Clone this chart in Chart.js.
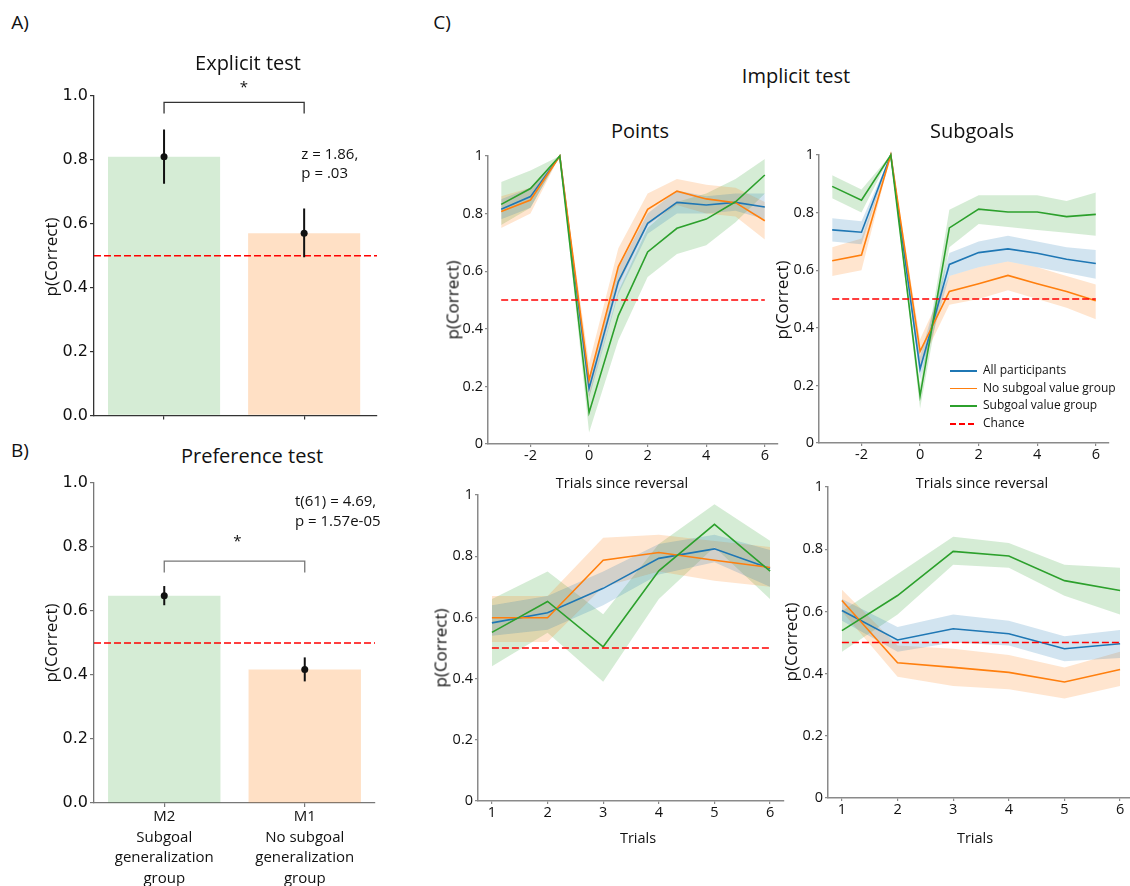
<!DOCTYPE html>
<html lang="en">
<head>
<meta charset="UTF-8" />
<title>Explicit, preference and implicit tests</title>
<style>
  body {
    margin: 0;
    width: 1130px;
    height: 886px;
    overflow: hidden;
    background: #fff;
    position: relative;
    font-family: "Open Sans", sans-serif;
    color: #111;
  }
  canvas { position: absolute; }
  .lbl {
    position: absolute;
    transform: translate(-50%, -50%);
    white-space: nowrap;
  }
  .rot { transform: translate(-50%, -50%) rotate(-90deg); }
  .legend {
    position: absolute;
    left: 950px;
    top: 361px;
    font-size: 12px;
    line-height: 17.7px;
  }
  .legend .sw {
    display: inline-block;
    width: 27px;
    height: 1.6px;
    margin-right: 6px;
    vertical-align: middle;
  }
</style>
</head>
<body>
<script src="https://cdn.jsdelivr.net/npm/chart.js@4"></script>
<script>
  // ---- bar panels (A: explicit test, B: preference test)
  const barGroups = [
    ["M2", "Subgoal", "generalization", "group"],
    ["M1", "No subgoal", "generalization", "group"],
  ];
  const explicitMean = [0.81, 0.57];
  const explicitLo = [0.725, 0.495];
  const explicitHi = [0.895, 0.648];
  const explicitBracket = [0.945, 0.98];
  const prefMean = [0.648, 0.417];
  const prefLo = [0.618, 0.38];
  const prefHi = [0.678, 0.455];
  const prefBracket = [0.72, 0.756];
  const chance = 0.5;

  // ---- implicit test
  const groupNames = ["All participants", "No subgoal value group", "Subgoal value group"];
  const revTrials = [-3, -2, -1, 0, 1, 2, 3, 4, 5, 6];
  const revTicks = [-2, 0, 2, 4, 6];
  const trials = [1, 2, 3, 4, 5, 6];
  const pTicks = [0, 0.2, 0.4, 0.6, 0.8, 1];

  // points, trials since reversal
  const ptsRevAll = [0.815, 0.859, 1, 0.193, 0.564, 0.766, 0.839, 0.83, 0.839, 0.823];
  const ptsRevAllLo = [0.78, 0.82, 1, 0.16, 0.52, 0.73, 0.8, 0.8, 0.81, 0.78];
  const ptsRevAllHi = [0.85, 0.89, 1, 0.23, 0.61, 0.8, 0.88, 0.86, 0.87, 0.87];
  const ptsRevNo = [0.807, 0.847, 1, 0.222, 0.616, 0.815, 0.878, 0.851, 0.838, 0.775];
  const ptsRevNoLo = [0.75, 0.8, 1, 0.16, 0.55, 0.76, 0.83, 0.8, 0.79, 0.71];
  const ptsRevNoHi = [0.86, 0.89, 1, 0.28, 0.68, 0.87, 0.92, 0.9, 0.89, 0.84];
  const ptsRevSub = [0.832, 0.887, 1, 0.109, 0.446, 0.667, 0.749, 0.781, 0.841, 0.934];
  const ptsRevSubLo = [0.76, 0.82, 1, 0.04, 0.36, 0.58, 0.66, 0.69, 0.77, 0.87];
  const ptsRevSubHi = [0.91, 0.95, 1, 0.17, 0.53, 0.75, 0.84, 0.87, 0.92, 0.99];

  // subgoals, trials since reversal
  const sgRevAll = [0.74, 0.732, 1, 0.257, 0.62, 0.661, 0.674, 0.659, 0.638, 0.623];
  const sgRevAllLo = [0.7, 0.69, 1, 0.22, 0.58, 0.61, 0.63, 0.61, 0.59, 0.57];
  const sgRevAllHi = [0.78, 0.77, 1, 0.3, 0.66, 0.7, 0.72, 0.7, 0.68, 0.67];
  const sgRevNo = [0.633, 0.653, 1, 0.318, 0.526, 0.553, 0.582, 0.553, 0.526, 0.494];
  const sgRevNoLo = [0.58, 0.6, 1, 0.27, 0.48, 0.5, 0.53, 0.5, 0.47, 0.43];
  const sgRevNoHi = [0.68, 0.71, 1, 0.36, 0.58, 0.61, 0.63, 0.61, 0.58, 0.55];
  const sgRevSub = [0.891, 0.843, 1, 0.164, 0.747, 0.812, 0.802, 0.802, 0.786, 0.794];
  const sgRevSubLo = [0.85, 0.8, 1, 0.12, 0.68, 0.76, 0.75, 0.74, 0.73, 0.72];
  const sgRevSubHi = [0.93, 0.88, 1, 0.2, 0.81, 0.86, 0.86, 0.86, 0.84, 0.87];

  // points, trials
  const ptsTrAll = [0.582, 0.615, 0.695, 0.793, 0.824, 0.76];
  const ptsTrAllLo = [0.54, 0.56, 0.64, 0.74, 0.78, 0.7];
  const ptsTrAllHi = [0.64, 0.67, 0.75, 0.84, 0.87, 0.82];
  const ptsTrNo = [0.599, 0.599, 0.787, 0.812, 0.787, 0.763];
  const ptsTrNoLo = [0.52, 0.52, 0.7, 0.75, 0.72, 0.7];
  const ptsTrNoHi = [0.67, 0.67, 0.86, 0.87, 0.85, 0.83];
  const ptsTrSub = [0.551, 0.652, 0.504, 0.752, 0.904, 0.751];
  const ptsTrSubLo = [0.44, 0.55, 0.39, 0.66, 0.83, 0.66];
  const ptsTrSubHi = [0.66, 0.75, 0.61, 0.84, 0.97, 0.85];

  // subgoals, trials
  const sgTrAll = [0.603, 0.508, 0.544, 0.528, 0.48, 0.496];
  const sgTrAllLo = [0.57, 0.47, 0.5, 0.49, 0.44, 0.45];
  const sgTrAllHi = [0.64, 0.55, 0.59, 0.57, 0.52, 0.54];
  const sgTrNo = [0.635, 0.435, 0.42, 0.404, 0.373, 0.413];
  const sgTrNoLo = [0.6, 0.39, 0.36, 0.35, 0.32, 0.36];
  const sgTrNoHi = [0.67, 0.49, 0.48, 0.46, 0.42, 0.47];
  const sgTrSub = [0.538, 0.651, 0.793, 0.778, 0.699, 0.667];
  const sgTrSubLo = [0.47, 0.59, 0.75, 0.74, 0.65, 0.59];
  const sgTrSubHi = [0.6, 0.72, 0.84, 0.82, 0.75, 0.74];

  const BLUE = "#1f77b4", ORANGE = "#ff7f0e", GREEN = "#2ca02c";
  const SANS = '"Open Sans", sans-serif';

  Chart.defaults.font.family = SANS;
  Chart.defaults.color = "#111";
  Chart.defaults.animation = false;
  Chart.defaults.plugins.legend.display = false;
  Chart.defaults.plugins.tooltip.enabled = false;

  // text placed at data coordinates (stats, significance stars)
  Chart.register({
    id: "notes",
    afterDraw(chart, args, opts) {
      const { ctx, scales } = chart;
      (opts.items || []).forEach((n) => {
        ctx.save();
        ctx.font = n.font;
        ctx.fillStyle = "#111";
        ctx.textAlign = n.align || "left";
        ctx.textBaseline = "middle";
        ctx.fillText(n.text, scales.x.getPixelForValue(n.x), scales.y.getPixelForValue(n.y));
        ctx.restore();
      });
    },
  });

  function label(text, x, y, size, extra) {
    const d = document.createElement("div");
    d.className = "lbl" + (extra ? " " + extra : "");
    d.style.left = x + "px";
    d.style.top = y + "px";
    d.style.fontSize = size + "px";
    d.textContent = text;
    document.body.appendChild(d);
  }

  function makeCanvas(x, y, w, h) {
    const c = document.createElement("canvas");
    c.width = w;
    c.height = h;
    c.style.left = x + "px";
    c.style.top = y + "px";
    c.style.width = w + "px";
    c.style.height = h + "px";
    document.body.appendChild(c);
    return c;
  }

  const xy = (xs, ys) => xs.map((x, i) => ({ x, y: ys[i] }));

  function rgba(hex, a) {
    const n = parseInt(hex.slice(1), 16);
    return `rgba(${n >> 16},${(n >> 8) & 255},${n & 255},${a})`;
  }

  function xAxis(min, max, ticks, fmt, o) {
    return {
      type: "linear",
      min, max,
      offset: false,
      afterBuildTicks: (s) => { s.ticks = ticks.map((v) => ({ value: v })); },
      afterFit: (s) => { s.height = o.h; },
      grid: { drawOnChartArea: false, tickLength: o.tl, color: o.color, lineWidth: 1.2, offset: false },
      border: { color: o.color, width: o.bw },
      ticks: { padding: 0, autoSkip: false, maxRotation: 0, font: o.font, callback: fmt },
    };
  }

  function yAxis(ticks, fmt, o) {
    return {
      min: 0, max: 1,
      afterBuildTicks: (s) => { s.ticks = ticks.map((v) => ({ value: v })); },
      afterFit: (s) => { s.width = o.w; },
      grid: { drawOnChartArea: false, tickLength: o.tl, color: o.color, lineWidth: 1.2 },
      border: { color: o.color, width: o.bw },
      ticks: { padding: 2, font: o.font, callback: fmt },
    };
  }

  function barPanel(box, means, lo, hi, bracket, xMax, tickFmt, notes, spine) {
    const canvas = makeCanvas(box.x, box.y, box.w, box.h);
    const ids = means.map((m, i) => i);
    const datasets = [
      {
        type: "bar",
        data: xy(ids, means),
        backgroundColor: [rgba(GREEN, 0.2), rgba(ORANGE, 0.24)],
        barPercentage: 0.8,
        categoryPercentage: 1,
        order: 5,
      },
      {
        type: "line",
        data: [{ x: -0.5, y: chance }, { x: xMax, y: chance }],
        borderColor: "red",
        borderWidth: 1.5,
        borderDash: [7, 3],
        pointRadius: 0,
        order: 3,
      },
    ];
    ids.forEach((i) => {
      datasets.push({
        type: "line",
        data: [{ x: i, y: lo[i] }, { x: i, y: hi[i] }],
        borderColor: "#111",
        borderWidth: 2,
        pointRadius: 0,
        order: 1,
      });
    });
    datasets.push({
      type: "line",
      data: xy(ids, means),
      showLine: false,
      pointRadius: 3.5,
      pointBackgroundColor: "#111",
      pointBorderWidth: 0,
      order: 0,
    });
    datasets.push({
      type: "line",
      data: [
        { x: 0, y: bracket[0] }, { x: 0, y: bracket[1] },
        { x: 1, y: bracket[1] }, { x: 1, y: bracket[0] },
      ],
      borderColor: spine,
      borderWidth: 1.3,
      pointRadius: 0,
      tension: 0,
      order: 0,
    });
    return new Chart(canvas, {
      type: "bar",
      data: { datasets },
      options: {
        responsive: false,
        maintainAspectRatio: false,
        layout: { padding: { top: box.pt, right: 12, left: 0, bottom: 0 } },
        scales: {
          x: xAxis(-0.5, xMax, ids, tickFmt, {
            h: box.xh, tl: 4, color: spine, bw: 1.3,
            font: { family: SANS, size: 15, lineHeight: 1.36 },
          }),
          y: yAxis([0, 0.2, 0.4, 0.6, 0.8, 1], (v) => v.toFixed(1), {
            w: 94, tl: 4, color: spine, bw: 1.3,
            font: { family: '"DejaVu Sans", sans-serif', size: 16 },
          }),
        },
        plugins: { notes: { items: notes } },
      },
    });
  }

  function trendPanel(box, xs, xTicks, xMin, xMax, groups) {
    const canvas = makeCanvas(box.x, box.y, box.w, box.h);
    const datasets = [];
    groups.forEach((g) => {
      const loIdx = datasets.length;
      datasets.push({
        data: xy(xs, g.lo), borderWidth: 0, borderColor: "transparent",
        pointRadius: 0, fill: false, order: 5,
      });
      datasets.push({
        data: xy(xs, g.hi), borderWidth: 0, borderColor: "transparent",
        pointRadius: 0, fill: loIdx, backgroundColor: rgba(g.color, 0.2), order: 5,
      });
      datasets.push({
        data: xy(xs, g.mean), borderColor: g.color, borderWidth: 1.6,
        pointRadius: 0, fill: false, clip: 4, order: g.order,
      });
    });
    datasets.push({
      data: [{ x: xs[0], y: chance }, { x: xs[xs.length - 1], y: chance }],
      borderColor: "red", borderWidth: 1.5, borderDash: [7, 3],
      pointRadius: 0, fill: false, order: 0,
    });
    const gray = "#8a8a8a";
    return new Chart(canvas, {
      type: "line",
      data: { datasets },
      options: {
        responsive: false,
        maintainAspectRatio: false,
        layout: { padding: { top: 12, right: 12, left: 0, bottom: 0 } },
        scales: {
          x: xAxis(xMin, xMax, xTicks, (v) => String(v), {
            h: 50, tl: 3, color: gray, bw: 1.5, font: { family: SANS, size: 14.5 },
          }),
          y: yAxis(pTicks, (v) => (v === 0 || v === 1 ? String(v) : v.toFixed(1)), {
            w: 48, tl: 3, color: gray, bw: 1.5, font: { family: SANS, size: 14.5 },
          }),
        },
      },
    });
  }

  function groupsOf(all, allLo, allHi, no, noLo, noHi, sub, subLo, subHi) {
    return [
      { mean: all, lo: allLo, hi: allHi, color: BLUE, order: 0.3 },
      { mean: no, lo: noLo, hi: noHi, color: ORANGE, order: 0.2 },
      { mean: sub, lo: subLo, hi: subHi, color: GREEN, order: 0.1 },
    ];
  }

  // A) explicit test
  barPanel({ x: 0, y: 64, w: 389, h: 363, xh: 10, pt: 32 }, explicitMean, explicitLo, explicitHi,
    explicitBracket, 1.52, () => "", [
      { x: 0.57, y: 1.025, text: "*", font: `15px ${SANS}`, align: "center" },
      { x: 0.98, y: 0.816, text: "z = 1.86,", font: `15px ${SANS}` },
      { x: 0.98, y: 0.757, text: "p = .03", font: `15px ${SANS}` },
    ], "#333");

  // B) preference test
  barPanel({ x: 0, y: 471, w: 387, h: 415, xh: 83, pt: 12 }, prefMean, prefLo, prefHi,
    prefBracket, 1.5, (v, i) => barGroups[i], [
      { x: 0.52, y: 0.815, text: "*", font: `15px ${SANS}`, align: "center" },
      { x: 0.93, y: 0.94, text: "t(61) = 4.69,", font: `15px ${SANS}` },
      { x: 0.93, y: 0.878, text: "p = 1.57e-05", font: `15px ${SANS}` },
    ], "#777");

  // C) implicit test
  trendPanel({ x: 440, y: 144, w: 350, h: 350 }, revTrials, revTicks, -3.45, 6.45,
    groupsOf(ptsRevAll, ptsRevAllLo, ptsRevAllHi, ptsRevNo, ptsRevNoLo, ptsRevNoHi,
      ptsRevSub, ptsRevSubLo, ptsRevSubHi));
  trendPanel({ x: 771, y: 143, w: 350, h: 350 }, revTrials, revTicks, -3.45, 6.45,
    groupsOf(sgRevAll, sgRevAllLo, sgRevAllHi, sgRevNo, sgRevNoLo, sgRevNoHi,
      sgRevSub, sgRevSubLo, sgRevSubHi));
  trendPanel({ x: 430, y: 483, w: 366, h: 368 }, trials, trials, 0.75, 6.25,
    groupsOf(ptsTrAll, ptsTrAllLo, ptsTrAllHi, ptsTrNo, ptsTrNoLo, ptsTrNoHi,
      ptsTrSub, ptsTrSubLo, ptsTrSubHi));
  trendPanel({ x: 780, y: 475, w: 366, h: 373 }, trials, trials, 0.75, 6.25,
    groupsOf(sgTrAll, sgTrAllLo, sgTrAllHi, sgTrNo, sgTrNoLo, sgTrNoHi,
      sgTrSub, sgTrSubLo, sgTrSubHi));

  // headings and axis titles
  label("A)", 20, 22, 19);
  label("B)", 20, 450, 19);
  label("C)", 442, 22, 19);
  label("Explicit test", 248, 62, 20);
  label("Preference test", 252, 455, 20);
  label("Implicit test", 796, 75, 20);
  label("Points", 640, 130, 20);
  label("Subgoals", 972, 130, 20);
  label("p(Correct)", 50, 257, 17, "rot");
  label("p(Correct)", 50, 643, 17, "rot");
  label("p(Correct)", 452, 300, 17, "rot");
  label("p(Correct)", 781, 300, 17, "rot");
  label("p(Correct)", 440, 648, 17, "rot");
  label("p(Correct)", 790, 642, 17, "rot");
  label("Trials since reversal", 622, 482, 14.5);
  label("Trials since reversal", 982, 482, 14.5);
  label("Trials", 638, 837, 14.5);
  label("Trials", 975, 837, 14.5);

  // legend for the implicit-test lines
  const legend = document.createElement("div");
  legend.className = "legend";
  [BLUE, ORANGE, GREEN].forEach((c, i) => {
    legend.innerHTML += `<div><span class="sw" style="background:${c}"></span>${groupNames[i]}</div>`;
  });
  legend.innerHTML += `<div><span class="sw" style="background:repeating-linear-gradient(90deg, red 0 6px, transparent 6px 9px)"></span>Chance</div>`;
  document.body.appendChild(legend);
</script>
</body>
</html>
